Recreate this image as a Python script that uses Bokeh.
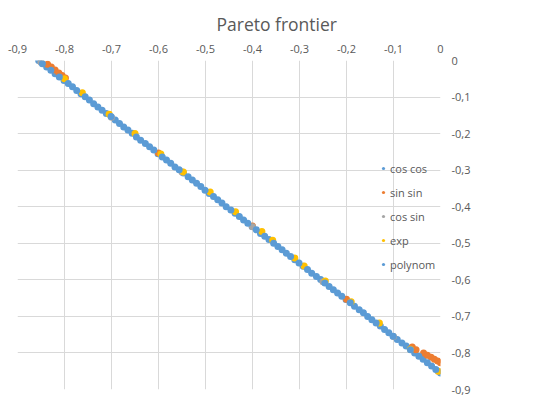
from bokeh.plotting import figure
from bokeh.models import (Range1d, FixedTicker, CustomJSTickFormatter, Legend, LegendItem)
from bokeh.embed import file_html
from bokeh.resources import INLINE

# ---------------- data ----------------
title_text = "Pareto frontier"
ticks = [-0.9, -0.8, -0.7, -0.6, -0.5, -0.4, -0.3, -0.2, -0.1, 0.0]

cos_cos_x = [-0.855, -0.838, -0.820, -0.801, -0.783, -0.765, -0.747, -0.729, -0.711, -0.692,
             -0.674, -0.656, -0.638, -0.619, -0.601, -0.583, -0.565, -0.547, -0.528, -0.510,
             -0.492, -0.474, -0.456, -0.437, -0.419, -0.401, -0.383, -0.365, -0.346, -0.328,
             -0.310, -0.292, -0.274, -0.255, -0.237, -0.219, -0.201, -0.183, -0.164, -0.146,
             -0.128, -0.110, -0.092, -0.073, -0.055, -0.037, -0.019, -0.000]
cos_cos_y = [-0.000, -0.018, -0.036, -0.055, -0.072, -0.091, -0.108, -0.127, -0.145, -0.163,
             -0.182, -0.199, -0.218, -0.236, -0.255, -0.272, -0.291, -0.308, -0.327, -0.345,
             -0.364, -0.381, -0.400, -0.418, -0.436, -0.454, -0.473, -0.490, -0.509, -0.527,
             -0.545, -0.563, -0.582, -0.599, -0.618, -0.636, -0.654, -0.672, -0.690, -0.709,
             -0.726, -0.745, -0.763, -0.781, -0.800, -0.817, -0.836, -0.855]

sin_sin_x = [-0.836, -0.828, -0.820, -0.812, -0.805, -0.798, -0.600, -0.400, -0.200,
             -0.060, -0.052, -0.036, -0.028, -0.020, -0.013, -0.006, 0.000]
sin_sin_y = [-0.010, -0.018, -0.026, -0.034, -0.041, -0.048, -0.253, -0.453, -0.653,
             -0.784, -0.791, -0.800, -0.806, -0.812, -0.817, -0.822, -0.827]

cos_sin_x = [-0.850, -0.700, -0.550, -0.400, -0.250, -0.100, -0.005]
cos_sin_y = [-0.005, -0.155, -0.305, -0.455, -0.605, -0.755, -0.850]

exp_x = [-0.800, -0.762, -0.705, -0.650, -0.595, -0.547, -0.490, -0.436, -0.380, -0.357,
         -0.310, -0.290, -0.245, -0.190, -0.130, -0.064, -0.004]
exp_y = [-0.050, -0.088, -0.147, -0.200, -0.256, -0.305, -0.360, -0.414, -0.468, -0.492,
         -0.540, -0.562, -0.603, -0.660, -0.718, -0.790, -0.850]

polynom_x = [-0.847, -0.829, -0.811, -0.792, -0.774, -0.756, -0.738, -0.720, -0.701, -0.683,
             -0.665, -0.647, -0.628, -0.610, -0.592, -0.574, -0.556, -0.537, -0.519, -0.501,
             -0.483, -0.465, -0.446, -0.428, -0.410, -0.392, -0.374, -0.355, -0.337, -0.319,
             -0.301, -0.283, -0.264, -0.246, -0.228, -0.210, -0.192, -0.173, -0.155, -0.137,
             -0.119, -0.101, -0.082, -0.064, -0.046, -0.028, -0.010]
polynom_y = [-0.009, -0.027, -0.045, -0.063, -0.082, -0.099, -0.118, -0.136, -0.153, -0.172,
             -0.190, -0.209, -0.227, -0.245, -0.264, -0.281, -0.299, -0.318, -0.336, -0.355,
             -0.372, -0.390, -0.409, -0.427, -0.445, -0.463, -0.481, -0.500, -0.518, -0.536,
             -0.554, -0.572, -0.591, -0.609, -0.627, -0.645, -0.663, -0.682, -0.700, -0.718,
             -0.736, -0.754, -0.773, -0.791, -0.809, -0.827, -0.845]

series = [
    ("cos cos", cos_cos_x, cos_cos_y, "#5B9BD5"),
    ("sin sin", sin_sin_x, sin_sin_y, "#ED7D31"),
    ("cos sin", cos_sin_x, cos_sin_y, "#A5A5A5"),
    ("exp", exp_x, exp_y, "#FFC000"),
    ("polynom", polynom_x, polynom_y, "#5B9BD5"),
]

# ---------------- figure ----------------
FONT = "Open Sans"
TXT = "#595959"
GRID = "#d9d9d9"

p = figure(width=550, height=402, output_backend="svg", toolbar_location=None,
           x_range=Range1d(-0.9, 0), y_range=Range1d(-0.9, 0),
           x_axis_location="above", y_axis_location="right",
           frame_width=423, frame_height=329,
           min_border_left=17, min_border_right=110, min_border_top=60, min_border_bottom=13)
p.outline_line_color = None
p.background_fill_color = "white"
p.border_fill_color = "white"

p.title.text = title_text
p.title.text_font = FONT
p.title.text_font_size = "17.5px"
p.title.text_font_style = "normal"
p.title.text_color = TXT
p.title.align = "left"
p.title.offset = 199
p.title.vertical_align = "top"
p.title.standoff = 8

fmt = CustomJSTickFormatter(code="""
if (Math.abs(tick) < 1e-9) { return '0'; }
return tick.toFixed(1).replace('.', ',');
""")

for ax in (p.xaxis[0], p.yaxis[0]):
    ax.ticker = FixedTicker(ticks=ticks)
    ax.formatter = fmt
    ax.axis_line_color = None
    ax.major_tick_line_color = None
    ax.minor_tick_line_color = None
    ax.major_tick_out = 0
    ax.major_tick_in = 0
    ax.minor_tick_out = 0
    ax.minor_tick_in = 0
    ax.major_label_text_font = FONT
    ax.major_label_text_font_size = "11px"
    ax.major_label_text_color = TXT
p.xaxis[0].major_label_standoff = 8
p.yaxis[0].major_label_standoff = 11

for g in (p.xgrid[0], p.ygrid[0]):
    g.ticker = FixedTicker(ticks=ticks)
    g.grid_line_color = GRID
    g.grid_line_width = 1

items = []
for name, xs, ys, col in series:
    r = p.scatter(xs, ys, size=7, marker="circle", fill_color=col, line_color=None)
    items.append(LegendItem(label=name, renderers=[r]))

legend = Legend(items=items, location=(362, 113), orientation="vertical",
                padding=0, margin=0, spacing=0, label_height=24,
                glyph_width=8, glyph_height=8, label_standoff=3,
                label_text_font=FONT, label_text_font_size="11px",
                label_text_color=TXT, label_text_baseline="middle",
                background_fill_alpha=0, border_line_color=None)
p.add_layout(legend, "center")

open("out.html", "w").write(file_html(p, INLINE))
